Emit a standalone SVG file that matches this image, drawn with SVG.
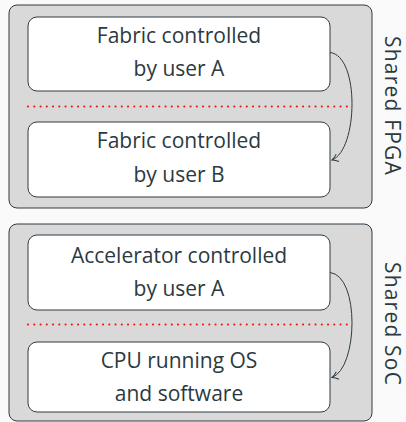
<svg xmlns="http://www.w3.org/2000/svg" width="406" height="422" viewBox="0 0 406 422">
<style>
.outer{fill:#d9d9d9;stroke:#2e3b40;stroke-width:1}
.inner{fill:#ffffff;stroke:#2e3b40;stroke-width:1}
.t{font-family:"Open Sans","DejaVu Sans",sans-serif;font-size:21px;fill:#2b3a3f;text-anchor:middle}
.side{font-size:21px;letter-spacing:1.2px}
.sep{stroke:#ee1111;stroke-width:2;stroke-dasharray:0.1 6.15;stroke-linecap:round;fill:none}
.arr{fill:none;stroke:#2e3b40;stroke-width:1}
</style>
<defs>
<marker id="ah" markerWidth="10" markerHeight="10" refX="9" refY="5" orient="auto" markerUnits="userSpaceOnUse">
<path d="M3,1 Q6,4 9,5 Q6,6 3,9" fill="none" stroke="#2e3b40" stroke-width="1"/>
</marker>
</defs>
<rect width="406" height="422" fill="#fafafa"/>
<g id="fpga">
<rect class="outer" x="9" y="5" width="363" height="203" rx="8"/>
<text class="t side" transform="translate(385,106) rotate(90)">Shared FPGA</text>
</g>
<g id="soc">
<rect class="outer" x="9" y="224" width="363" height="197" rx="8"/>
<text class="t side" transform="translate(385,324) rotate(90)">Shared SoC</text>
</g>
<g id="fabricA">
<rect class="inner" x="28" y="17" width="302" height="74" rx="9"/>
<text class="t" x="179" y="43">Fabric controlled</text>
<text class="t" x="179" y="76">by user A</text>
</g>
<g id="fabricB">
<rect class="inner" x="28" y="122" width="302" height="75" rx="9"/>
<text class="t" x="179" y="148">Fabric controlled</text>
<text class="t" x="179" y="182">by user B</text>
</g>
<g id="accel">
<rect class="inner" x="28" y="235" width="302" height="75" rx="9"/>
<text class="t" x="179" y="263">Accelerator controlled</text>
<text class="t" x="179" y="296">by user A</text>
</g>
<g id="cpu">
<rect class="inner" x="28" y="342" width="302" height="70" rx="9"/>
<text class="t" x="179" y="368">CPU running OS</text>
<text class="t" x="179" y="401">and software</text>
</g>
<g id="connectors">
<line class="sep" x1="28" y1="106.5" x2="350" y2="106.5"/>
<line class="sep" x1="28" y1="324.5" x2="350" y2="324.5"/>
<path class="arr" d="M330,52.5 C360,56 358,150 332,160" marker-end="url(#ah)"/>
<path class="arr" d="M330,272.5 C360,276 358,368 332,377.5" marker-end="url(#ah)"/>
</g>
</svg>
